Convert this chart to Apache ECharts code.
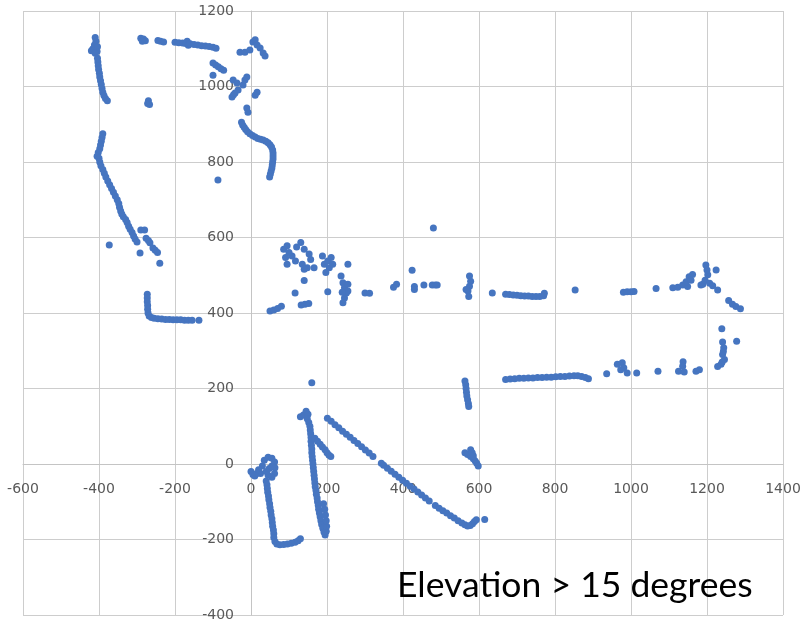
<!DOCTYPE html>
<html>
<head>
<meta charset="utf-8">
<script src="https://cdn.jsdelivr.net/npm/echarts@6/dist/echarts.min.js"></script>
<style>
html,body{margin:0;padding:0;background:#fff;}
#chart{width:802px;height:623px;}
</style>
</head>
<body>
<div id="chart"></div>
<script>
// Axis ticks
const xTicks = [-600,-400,-200,0,200,400,600,800,1000,1200,1400];
const yTicks = [-400,-200,0,200,400,600,800,1000,1200];
const caption = 'Elevation > 15 degrees';

// Point groups: [x, y]
const topLeftBlob = [[-410,1130],[-408,1120],[-412,1110],[-416,1100],[-420,1095],[-404,1105],[-405,1093],[-410,1088]];
const leftUpperLine = [[-404,1075],[-403,1065],[-402,1055],[-401,1045],[-399,1035],[-398,1025],[-396,1015],[-394,1005],[-392,995],[-390,985],[-387,976],[-383,968],[-378,962]];
const topBlobs = [[-290,1128],[-283,1126],[-278,1121],[-286,1120],[-245,1122],[-238,1120],[-230,1118],[-270,962],[-272,955],[-267,952]];
const topLine = [[-200,1117],[-190,1116],[-180,1115],[-172,1114],[-168,1120],[-165,1109],[-160,1113],[-150,1111],[-140,1110],[-130,1108],[-120,1107],[-110,1106],[-100,1104],[-92,1101]];
const upperMidDash = [[-100,1062],[-93,1057],[-86,1052],[-79,1047],[-72,1043],[-100,1030]];
const upperRightBits = [[-29,1091],[-16,1091],[-3,1097],[5,1118],[11,1124],[16,1110],[24,1102],[32,1089],[37,1081]];
const cluster1000 = [[-47,1017],[-37,1009],[-50,972],[-46,978],[-42,983],[-34,991],[-21,1004],[-16,1017],[-11,1025],[16,985],[11,977],[-11,943],[-8,932]];
const hookCurve = [[-25,905],[-22,898],[-18,892],[-14,886],[-9,880],[-3,875],[4,870],[11,866],[18,862],[25,860],[32,858],[39,855],[45,851],[50,846],[54,840],[57,832],[58,824],[58,816],[58,808],[57,800],[56,792],[55,784],[53,776],[51,768],[49,760]];
const loneDots = [[-87,752],[480,625],[160,215]];
const leftDescLine = [[-390,875],[-392,865],[-394,855],[-396,845],[-398,835],[-402,825],[-405,815],[-400,810],[-398,800],[-395,790],[-390,780],[-386,770],[-382,760],[-377,750],[-372,740],[-367,730],[-362,720],[-357,710],[-352,700],[-348,690],[-346,680],[-343,670],[-340,662],[-336,655],[-330,648],[-326,640],[-322,630],[-318,622],[-313,613],[-309,604],[-305,596],[-300,588]];
const cluster600 = [[-290,620],[-280,620],[-276,598],[-270,592],[-266,586],[-258,572],[-252,566],[-246,560],[-240,532],[-292,559],[-373,580]];
const bottomL = [[-273,450],[-273,440],[-273,430],[-272,420],[-272,410],[-271,400],[-268,392],[-262,388],[-255,386],[-245,385],[-235,384],[-225,383],[-215,383],[-205,382],[-195,382],[-185,382],[-175,381],[-165,381],[-155,381],[-137,381]];
const midCluster = [[86,569],[95,578],[91,547],[95,529],[108,551],[117,538],[131,587],[140,569],[153,556],[157,542],[135,529],[148,520],[166,520],[140,516],[100,560],[120,575],[188,551],[193,529],[202,538],[206,520],[211,547],[197,507],[215,529],[255,529],[140,486]];
const midBlob = [[237,498],[242,480],[246,467],[251,453],[246,440],[242,427],[255,476],[255,458],[240,455],[202,456],[116,453]];
const midDashes = [[300,453],[312,452],[375,468],[383,476],[424,513],[430,470],[430,462],[455,474],[477,474],[485,474],[490,474],[575,498],[578,484],[575,471],[571,458],[573,444],[566,462],[635,453]];
const lowDashes = [[50,405],[60,408],[70,412],[80,418],[132,421],[142,423],[152,425]];
const band450 = [[670,450],[680,449],[690,448],[700,447],[710,446],[720,445],[730,445],[740,444],[750,444],[760,444],[770,446],[772,452],[853,461],[980,455],[990,456],[1000,456],[1008,457],[1066,465]];
const rightBlob = [[1110,467],[1123,468],[1136,474],[1149,470],[1145,483],[1153,496],[1162,502],[1158,487],[1184,474],[1189,476],[1195,487],[1202,501],[1200,514],[1197,527],[1207,479],[1215,472],[1224,514],[1228,461],[1257,433],[1267,423],[1276,417],[1288,411]];
const band230 = [[670,224],[682,225],[694,226],[706,227],[718,227],[730,228],[742,228],[754,229],[766,229],[778,230],[790,230],[802,231],[814,232],[826,232],[838,233],[850,234],[860,234],[870,232],[880,229],[888,226],[936,239],[964,264],[977,268],[981,255],[990,241],[973,250],[1015,241],[1071,246],[1137,271],[1136,259],[1125,246],[1140,244],[1171,246],[1180,250]];
const rightColumn = [[1239,358],[1241,323],[1244,308],[1241,290],[1246,277],[1237,264],[1228,258],[1278,325],[1243,298],[1240,270]];
const column600 = [[563,220],[565,210],[566,200],[567,190],[568,180],[570,170],[572,160],[573,152],[563,30],[570,25],[578,20],[585,14],[590,8],[594,2],[598,-5],[578,38],[582,30],[585,22]];
const diagonal = [[201,121],[211,113],[221,104],[231,96],[241,87],[251,79],[261,71],[271,62],[281,54],[291,46],[301,37],[311,29],[321,20],[343,2],[349,-3],[359,-11],[369,-19],[379,-27],[389,-35],[399,-43],[409,-51],[419,-59],[429,-66],[439,-74],[449,-82],[459,-90],[469,-98],[485,-110],[495,-117],[505,-124],[515,-130],[525,-137],[535,-143],[545,-150],[555,-156],[563,-161],[570,-164],[577,-163],[583,-158],[588,-152],[593,-148],[615,-147]];
const leftLeg = [[130,125],[138,130],[145,140],[150,132],[148,120],[152,110],[155,100],[156,90],[157,80],[158,70],[158,60],[159,50],[160,40],[160,30],[161,20],[162,10],[163,0],[164,-10],[165,-20],[166,-30],[167,-40],[168,-50],[169,-60],[171,-70],[172,-80],[174,-90],[175,-100],[177,-110],[178,-120],[180,-130],[182,-140],[184,-150],[186,-160],[189,-170],[192,-180],[195,-188],[198,-178],[199,-165],[198,-150],[196,-135],[194,-120],[191,-105]];
const branch = [[168,68],[175,60],[182,52],[188,45],[195,38],[200,30],[205,24],[210,20]];
const originLoop = [[25,-25],[30,-5],[35,10],[45,18],[55,15],[62,5],[63,-10],[62,-25],[55,-35],[45,-30],[40,-20],[48,-12],[55,-5],[0,-20],[5,-28],[10,-32],[15,-25],[20,-15]];
const bottomHook = [[40,-45],[42,-55],[43,-65],[44,-75],[46,-85],[47,-95],[49,-105],[50,-115],[52,-125],[53,-135],[55,-145],[56,-155],[57,-165],[59,-175],[60,-185],[60,-195],[63,-205],[68,-212],[76,-214],[86,-213],[96,-212],[106,-210],[116,-207],[124,-203],[130,-198]];

const allPoints = [].concat(topLeftBlob, leftUpperLine, topBlobs, topLine, upperMidDash, upperRightBits,
  cluster1000, hookCurve, loneDots, leftDescLine, cluster600, bottomL, midCluster, midBlob, midDashes,
  lowDashes, band450, rightBlob, band230, rightColumn, column600, diagonal, leftLeg, branch, originLoop, bottomHook);

const chart = echarts.init(document.getElementById('chart'), null, {renderer:'canvas'});
const gridColor = '#cdcdcd';
const labelStyle = {color:'#595959', fontSize:14, fontFamily:'DejaVu Sans', formatter:function(v){return String(v);}};
function buildOption(xOffset, yOffset){
  return {
    animation:false,
    grid:{left:23, right:19, top:11, bottom:8, containLabel:false, outerBoundsMode:'none'},
    xAxis:{
      type:'value', min:xTicks[0], max:xTicks[xTicks.length-1], interval:200,
      position:'bottom', offset:xOffset,
      axisLine:{show:true, onZero:false, lineStyle:{color:'#c4c4c4', width:1}},
      axisTick:{show:false},
      axisLabel:Object.assign({margin:18, showMinLabel:true, showMaxLabel:true}, labelStyle),
      splitLine:{show:true, lineStyle:{color:gridColor, width:1}}
    },
    yAxis:{
      type:'value', min:yTicks[0], max:yTicks[yTicks.length-1], interval:200,
      position:'left', offset:yOffset,
      axisLine:{show:true, onZero:false, lineStyle:{color:'#c4c4c4', width:1}},
      axisTick:{show:false},
      axisLabel:Object.assign({margin:17, showMinLabel:true, showMaxLabel:true}, labelStyle),
      splitLine:{show:true, lineStyle:{color:gridColor, width:1}}
    },
    series:[{
      type:'scatter',
      data:allPoints,
      symbol:'circle',
      symbolSize:7,
      itemStyle:{color:'#4675c0', opacity:1},
      z:5
    }],
    graphic:[{
      type:'text', left:397, top:569, z:10, scaleX:1.045,
      style:{text:caption, fill:'#000', font:'34px Lato'}
    }]
  };
}
// Place both axes on the zero lines using the library's own scales
let xOff = 0, yOff = 0;
for (let i = 0; i < 2; i++) {
  chart.setOption(buildOption(xOff, yOff), true);
  const zero = chart.convertToPixel({gridIndex:0}, [0, 0]);
  const corner = chart.convertToPixel({gridIndex:0}, [xTicks[0], yTicks[0]]);
  xOff = -(corner[1] - zero[1]);
  yOff = -(zero[0] - corner[0]);
}
chart.setOption(buildOption(xOff, yOff), true);
</script>
</body>
</html>
